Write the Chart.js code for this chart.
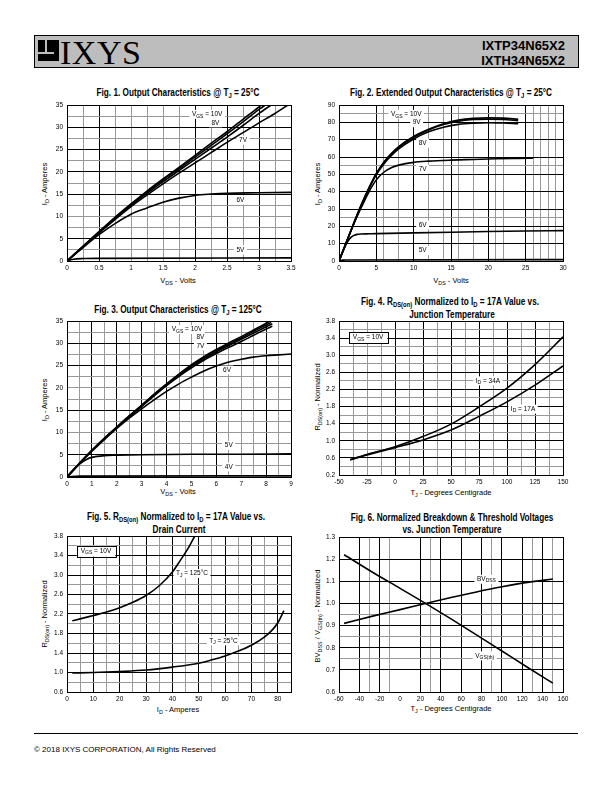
<!DOCTYPE html>
<html><head><meta charset="utf-8">
<script src="https://cdn.jsdelivr.net/npm/chart.js@4.4.0/dist/chart.umd.min.js"></script>
<style>
html,body{margin:0;padding:0;background:#fff;}
body{width:612px;height:792px;position:relative;overflow:hidden;font-family:"Liberation Sans",Arial,sans-serif;color:#000;}
.t{position:absolute;white-space:nowrap;color:#000;line-height:1;}
.ttl{font-family:"Liberation Sans",sans-serif;font-weight:bold;font-size:10px;transform:translate(-50%,-50%) scaleX(0.82);}
.ax{font-size:7.5px;transform:translate(-50%,-50%);}
.axy{font-size:7.5px;transform:translate(-50%,-50%) rotate(-90deg);}
sub{font-size:0.72em;vertical-align:-0.3em;line-height:0;}
sup{font-size:0.6em;vertical-align:0.6em;line-height:0;}
canvas{position:absolute;}
</style></head><body>

<div style="position:absolute;left:34px;top:35px;width:543px;height:31px;background:#bdbdbd;border:1px solid #000;"></div>
<div style="position:absolute;left:38px;top:40px;width:21px;height:21px;background:#000;"></div>
<div style="position:absolute;left:45px;top:40px;width:2px;height:12px;background:#bdbdbd;"></div>
<div style="position:absolute;left:38px;top:52px;width:16px;height:2px;background:#bdbdbd;"></div>
<div class="t" style="left:60px;top:36px;font-family:'Liberation Serif',serif;font-size:34px;letter-spacing:0.5px;">IXYS</div>
<div class="t" style="right:47px;top:39px;font-weight:bold;font-size:13px;">IXTP34N65X2</div>
<div class="t" style="right:47px;top:54px;font-weight:bold;font-size:13px;">IXTH34N65X2</div>

<div class="t ttl" style="left:178px;top:93px;">Fig. 1. Output Characteristics @ T<sub>J</sub> = 25°C</div>
<div class="t ttl" style="left:451px;top:93px;">Fig. 2. Extended Output Characteristics @ T<sub>J</sub> = 25°C</div>
<div class="t ttl" style="left:178px;top:310px;">Fig. 3. Output Characteristics @ T<sub>J</sub> = 125°C</div>
<div class="t ttl" style="left:450px;top:302px;">Fig. 4. R<sub>DS(on)</sub> Normalized to I<sub>D</sub> = 17A Value vs.</div>
<div class="t ttl" style="left:452px;top:314.5px;">Junction Temperature</div>
<div class="t ttl" style="left:176px;top:517px;">Fig. 5. R<sub>DS(on)</sub> Normalized to I<sub>D</sub> = 17A Value vs.</div>
<div class="t ttl" style="left:179px;top:529.5px;">Drain Current</div>
<div class="t ttl" style="left:452px;top:517.5px;">Fig. 6. Normalized Breakdown &amp; Threshold Voltages</div>
<div class="t ttl" style="left:452px;top:529.5px;">vs. Junction Temperature</div>

<div class="t axy" style="left:45px;top:184px;">I<sub>D</sub> - Amperes</div>
<div class="t ax" style="left:178px;top:281px;">V<sub>DS</sub> - Volts</div>
<div class="t axy" style="left:318px;top:184px;">I<sub>D</sub> - Amperes</div>
<div class="t ax" style="left:451px;top:281px;">V<sub>DS</sub> - Volts</div>
<div class="t axy" style="left:45px;top:400px;">I<sub>D</sub> - Amperes</div>
<div class="t ax" style="left:178px;top:492px;">V<sub>DS</sub> - Volts</div>
<div class="t axy" style="left:318px;top:397px;">R<sub>DS(on)</sub> - Normalized</div>
<div class="t ax" style="left:451px;top:493px;">T<sub>J</sub> - Degrees Centigrade</div>
<div class="t axy" style="left:45px;top:614px;">R<sub>DS(on)</sub> - Normalized</div>
<div class="t ax" style="left:178px;top:710px;">I<sub>D</sub> - Amperes</div>
<div class="t axy" style="left:318px;top:616px;">BV<sub>DSS</sub> / V<sub>GS(th)</sub> - Normalized</div>
<div class="t ax" style="left:451px;top:709px;">T<sub>J</sub> - Degrees Centigrade</div>

<div style="position:absolute;left:34px;top:733px;width:544px;height:1px;background:#000;"></div>
<div class="t" style="left:34px;top:746px;font-size:8px;">© 2018 IXYS CORPORATION, All Rights Reserved</div>

<script>
// ===== Fig.1 data (Tj = 25C) =====
const fig1_vds10 = [0,0.25,0.5,0.75,1,1.25,1.5,1.75,2,2.25,2.5,2.75,3,3.04];
const fig1_id10  = [0,3.3,6.6,9.8,12.8,15.7,18.4,21.0,23.7,26.4,29.0,31.8,34.6,35.1];
const fig1_vds9  = [0,0.25,0.5,0.75,1,1.25,1.5,1.75,2,2.25,2.5,2.75,3,3.1];
const fig1_id9   = [0,3.3,6.5,9.7,12.7,15.5,18.2,20.7,23.3,25.9,28.5,31.2,34.0,35.0];
const fig1_vds8  = [0,0.25,0.5,0.75,1,1.25,1.5,1.75,2,2.25,2.5,2.75,3,3.2];
const fig1_id8   = [0,3.2,6.4,9.5,12.5,15.2,17.8,20.3,22.8,25.3,27.8,30.4,33.1,35.1];
const fig1_vds7  = [0,0.25,0.5,0.75,1,1.25,1.5,1.75,2,2.25,2.5,2.75,3,3.25,3.45];
const fig1_id7   = [0,3.2,6.3,9.3,12.2,14.8,17.3,19.7,22.0,24.3,26.6,28.8,31.0,33.1,35.0];
const fig1_vds6  = [0,0.25,0.5,0.75,1,1.25,1.5,1.75,2,2.25,2.5,3,3.5];
const fig1_id6   = [0,3.0,5.9,8.4,10.5,11.9,13.2,14.1,14.7,15.0,15.2,15.3,15.4];
const fig1_vds5  = [0,0.1,0.25,0.5,3.5];
const fig1_id5   = [0,0.4,0.55,0.6,0.7];
const fig1_xgrid = [0,0.25,0.5,0.75,1,1.25,1.5,1.75,2,2.25,2.5,2.75,3,3.25,3.5];
const fig1_xlab  = [0,0.5,1,1.5,2,2.5,3,3.5];
const fig1_ygrid = [0,2.5,5,7.5,10,12.5,15,17.5,20,22.5,25,27.5,30,32.5,35];
const fig1_ylab  = [0,5,10,15,20,25,30,35];

// ===== Fig.2 data (extended, Tj = 25C) =====
const fig2_vdsA = [0,1,2,3,4,5,6,7,8,10,12,14,16,18,20,22,24];
const fig2_id10 = [0,11,22,32.5,42,50.5,57,62,66,71.8,76,79.2,81.3,82.3,82.6,82.4,81.8];
const fig2_id9  = [0,11,22,32.5,42,50.3,56.7,61.6,65.6,71.4,75.6,78.7,80.7,81.6,81.8,81.6,81.0];
const fig2_id8  = [0,10.9,21.8,32,41.5,49.8,56,60.8,64.7,70.4,74.5,77.2,78.8,79.5,79.8,79.6,79.2];
const fig2_vds7 = [0,1,2,3,4,5,6,7,8,10,12,15,18,21,24,26];
const fig2_id7  = [0,10.8,21.5,31,39.8,46.8,51.2,53.8,55.3,56.9,57.6,58.2,58.6,59,59.2,59.3];
const fig2_vds6 = [0,0.5,1,1.5,2,2.5,3,4,5,10,15,20,25,30];
const fig2_id6  = [0,5.3,10,13.2,14.8,15.4,15.6,15.7,15.8,16.2,16.6,17,17.3,17.5];
const fig2_vds5 = [0,0.5,1,30];
const fig2_id5  = [0,0.5,0.6,0.8];
const fig2_xgrid = [0,5,6,8,10,12,14,15,16,18,20,21,22,25,26,27,28,29,30];
const fig2_xlab  = [0,5,10,15,20,25,30];
const fig2_ygrid = [0,10,20,25,30,40,50,55,60,70,80,85,90];
const fig2_ylab  = [0,10,20,30,40,50,60,70,80,90];

// ===== Fig.3 data (Tj = 125C) =====
const fig3_vds10 = [0,0.5,1,1.5,2,2.5,3,3.5,4,4.5,5,5.5,6,6.5,7,7.5,8,8.15];
const fig3_id10  = [0,3.1,6.0,8.7,11.2,13.7,16.1,18.6,20.9,23.1,25.2,27.0,28.6,30.1,31.5,33.0,34.5,35.0];
const fig3_vds9  = [0,0.5,1,1.5,2,2.5,3,3.5,4,4.5,5,5.5,6,6.5,7,7.5,8,8.2];
const fig3_id9   = [0,3.1,6.0,8.7,11.2,13.7,16.1,18.5,20.8,23.0,25.0,26.8,28.4,29.8,31.2,32.7,34.1,34.7];
const fig3_vds8  = [0,0.5,1,1.5,2,2.5,3,3.5,4,4.5,5,5.5,6,6.5,7,7.5,8,8.25];
const fig3_id8   = [0,3.1,5.9,8.6,11.1,13.6,16.0,18.4,20.7,22.8,24.8,26.5,28.1,29.5,30.9,32.3,33.7,34.4];
const fig3_vds7  = [0,0.5,1,1.5,2,2.5,3,3.5,4,4.5,5,5.5,6,6.5,7,7.5,8,8.25];
const fig3_id7   = [0,3.0,5.9,8.5,11.0,13.5,15.8,18.2,20.5,22.6,24.5,26.2,27.7,29.1,30.4,31.8,33.2,33.8];
const fig3_vds6  = [0,0.5,1,1.5,2,2.5,3,3.5,4,4.5,5,5.5,6,6.5,7,7.5,8,8.5,9];
const fig3_id6   = [0,3,5.8,8.4,10.9,13.2,15.3,17.3,19.2,20.9,22.4,23.8,24.9,25.8,26.4,26.9,27.2,27.4,27.6];
const fig3_vds5  = [0,0.5,0.8,1,1.5,2,3,5,7,9];
const fig3_id5   = [0,2.9,4.0,4.4,4.8,4.9,5.0,5.1,5.1,5.2];
const fig3_vds4  = [0,0.5,9];
const fig3_id4   = [0,0.2,0.25];
const fig3_xgrid = [0,0.5,1,1.5,2,2.5,3,3.5,4,4.5,5,5.5,6,6.5,7,7.5,8,8.5,9];
const fig3_xlab  = [0,1,2,3,4,5,6,7,8,9];
const fig3_ygrid = fig1_ygrid;
const fig3_ylab  = fig1_ylab;

// ===== Fig.4 data =====
const fig4_tj    = [-40,-25,0,25,50,75,100,125,150];
const fig4_r34   = [0.56,0.68,0.86,1.10,1.39,1.79,2.23,2.78,3.43];
const fig4_r17   = [0.55,0.67,0.84,1.02,1.25,1.57,1.91,2.30,2.75];
const fig4_xgrid = [-50,-37.5,-25,-12.5,0,12.5,25,37.5,50,62.5,75,87.5,100,112.5,125,137.5,150];
const fig4_xlab  = [-50,-25,0,25,50,75,100,125,150];
const fig4_ygrid = [0.2,0.4,0.6,0.8,1.0,1.2,1.4,1.6,1.8,2.0,2.2,2.4,2.6,2.8,3.0,3.2,3.4,3.6,3.8];
const fig4_ylab  = [0.2,0.6,1.0,1.4,1.8,2.2,2.6,3.0,3.4,3.8];

// ===== Fig.5 data =====
const fig5_id125 = [2,5,10,15,20,25,30,35,40,43,46,48.5];
const fig5_r125  = [2.06,2.10,2.17,2.24,2.33,2.44,2.58,2.78,3.06,3.3,3.55,3.8];
const fig5_id25  = [2,10,20,30,40,50,55,60,65,70,75,78,80,82.3];
const fig5_r25   = [0.99,1.0,1.02,1.05,1.11,1.19,1.26,1.34,1.44,1.56,1.73,1.88,2.02,2.27];
const fig5_xgrid = [0,5,10,15,20,25,30,35,40,45,50,55,60,65,70,75,80,85];
const fig5_xlab  = [0,10,20,30,40,50,60,70,80];
const fig5_ygrid = [0.6,0.8,1.0,1.2,1.4,1.6,1.8,2.0,2.2,2.4,2.6,2.8,3.0,3.2,3.4,3.6,3.8];
const fig5_ylab  = [0.6,1.0,1.4,1.8,2.2,2.6,3.0,3.4,3.8];

// ===== Fig.6 data =====
const fig6_tj    = [-55,-25,0,25,50,75,100,125,150];
const fig6_bv    = [0.91,0.945,0.972,1.0,1.027,1.052,1.075,1.095,1.11];
const fig6_vth   = [1.22,1.135,1.068,1.0,0.93,0.858,0.785,0.712,0.64];
const fig6_xgrid = [-60,-40,-30,-20,-10,0,20,30,40,60,80,90,100,120,130,140,150,160];
const fig6_xlab  = [-60,-40,-20,0,20,40,60,80,100,120,140,160];
const fig6_ygrid = [0.6,0.7,0.75,0.8,0.85,0.9,0.95,1.0,1.1,1.2,1.3];
const fig6_ylab  = [0.6,0.7,0.8,0.9,1.0,1.1,1.2,1.3];

// ===== drawing helpers =====
const near = (arr, v) => arr.some(q => Math.abs(q - v) < 1e-6);
function drawLabels(chart, opts, bgPass){
  const ctx = chart.ctx, xs = chart.scales.x, ys = chart.scales.y;
  (opts.items || []).forEach(it => {
    const px = xs.getPixelForValue(it.x), py = ys.getPixelForValue(it.y);
    const parts = typeof it.t === 'string' ? [[it.t]] : it.t;
    const fM = '6.5px "Liberation Sans", sans-serif', fS = '5px "Liberation Sans", sans-serif';
    let w = 0;
    parts.forEach(p => { ctx.font = p[1] ? fS : fM; w += ctx.measureText(p[0]).width; });
    const x0 = px - w / 2;
    ctx.save();
    if (bgPass) {
      const padX = it.box ? 4 : 2.5, h = it.box ? 11 : 9;
      ctx.fillStyle = '#fff';
      ctx.fillRect(x0 - padX, py - h / 2, w + 2 * padX, h);
      if (it.box) {
        ctx.strokeStyle = '#000'; ctx.lineWidth = 1;
        ctx.strokeRect(Math.round(x0 - padX) + 0.5, Math.round(py - h / 2) + 0.5, Math.round(w + 2 * padX), h);
      }
    } else {
      ctx.fillStyle = '#000'; ctx.textBaseline = 'middle'; ctx.textAlign = 'left';
      let x = x0;
      parts.forEach(p => { ctx.font = p[1] ? fS : fM; ctx.fillText(p[0], x, py + (p[1] ? 1.8 : 0)); x += ctx.measureText(p[0]).width; });
    }
    ctx.restore();
  });
}
const labelPlugin = {
  id: 'curveLabels',
  beforeDatasetsDraw(chart, args, opts){ drawLabels(chart, opts, true); },
  afterDatasetsDraw(chart, args, opts){ drawLabels(chart, opts, false); }
};

function makeFig(spec){
  const PL = 45, PT = 10, PR = 14, PB = 22;
  const cv = document.createElement('canvas');
  cv.width = spec.w + PL + PR; cv.height = spec.h + PT + PB;
  cv.style.left = (spec.l - PL) + 'px'; cv.style.top = (spec.t - PT) + 'px';
  document.body.appendChild(cv);
  const axis = (a, isX) => ({
    type: 'linear', min: a.min, max: a.max,
    afterBuildTicks: s => { s.ticks = a.grid.map(v => ({value: v})); },
    afterFit: s => { if (isX) s.height = PB; else s.width = PL; },
    ticks: {autoSkip: false, maxRotation: 0, minRotation: 0, padding: isX ? 3 : 4, color: '#000',
      font: {size: 6.5, family: '"Liberation Sans", sans-serif'},
      callback: v => near(a.labels, v) ? a.fmt(v) : ''},
    grid: {drawTicks: false, lineWidth: 1,
      color: c => {
        const v = c.tick ? c.tick.value : null;
        if (v === null) return 'rgba(0,0,0,0)';
        if (a.none && near(a.none, v)) return 'rgba(0,0,0,0)';
        return (near(a.black, v) || v === a.min || v === a.max) ? '#000' : '#999';
      }},
    border: {display: true, color: '#000', width: 1}
  });
  new Chart(cv, {
    type: 'line',
    data: {datasets: spec.series.map(s => ({
      data: s.x.map((xv, i) => ({x: xv, y: s.y[i]})),
      borderColor: '#000', borderWidth: 1.6, pointRadius: 0, fill: false,
      cubicInterpolationMode: 'monotone'}))},
    options: {responsive: false, animation: false, devicePixelRatio: 1,
      layout: {padding: {top: PT, right: PR, left: 0, bottom: 0}},
      scales: {x: axis(spec.xa, true), y: axis(spec.ya, false)},
      plugins: {legend: {display: false}, tooltip: {enabled: false}, curveLabels: {items: spec.labels}}},
    plugins: [labelPlugin]
  });
}
const f0 = v => String(v), f1 = v => v.toFixed(1);
const VGS10 = [['V'],['GS',1],[' = 10V']];

makeFig({l:67, t:105, w:224, h:156,
  xa:{min:0,max:3.5,grid:fig1_xgrid,labels:fig1_xlab,black:[0.5,2,2.5,3],fmt:f0},
  ya:{min:0,max:35,grid:fig1_ygrid,labels:fig1_ylab,black:[5,15,20,25,30],fmt:f0},
  series:[{x:fig1_vds10,y:fig1_id10},{x:fig1_vds9,y:fig1_id9},{x:fig1_vds8,y:fig1_id8},{x:fig1_vds7,y:fig1_id7},{x:fig1_vds6,y:fig1_id6},{x:fig1_vds5,y:fig1_id5}],
  labels:[{x:2.19,y:32.9,t:VGS10},{x:2.32,y:31.0,t:'8V'},{x:2.75,y:27.1,t:'7V'},{x:2.71,y:13.7,t:'6V'},{x:2.71,y:2.5,t:'5V'}]});

makeFig({l:339, t:105, w:224, h:156,
  xa:{min:0,max:30,grid:fig2_xgrid,labels:fig2_xlab,black:[5,10,15,20,25],fmt:f0},
  ya:{min:0,max:90,grid:fig2_ygrid,labels:fig2_ylab,black:[10,20,30,40,50,60,70,80],fmt:f0},
  series:[{x:fig2_vdsA,y:fig2_id10},{x:fig2_vdsA,y:fig2_id9},{x:fig2_vdsA,y:fig2_id8},{x:fig2_vds7,y:fig2_id7},{x:fig2_vds6,y:fig2_id6},{x:fig2_vds5,y:fig2_id5}],
  labels:[{x:9.0,y:84.6,t:VGS10},{x:10.4,y:79.8,t:'9V'},{x:11.2,y:67.9,t:'8V'},{x:11.2,y:53,t:'7V'},{x:11.2,y:20.8,t:'6V'},{x:11.2,y:6,t:'5V'}]});

makeFig({l:67, t:321, w:224, h:156,
  xa:{min:0,max:9,grid:fig3_xgrid,labels:fig3_xlab,black:[1,2,3,4,6,8],fmt:f0},
  ya:{min:0,max:35,grid:fig3_ygrid,labels:fig3_ylab,black:[5,15,25,30],fmt:f0},
  series:[{x:fig3_vds10,y:fig3_id10},{x:fig3_vds9,y:fig3_id9},{x:fig3_vds8,y:fig3_id8},{x:fig3_vds7,y:fig3_id7},{x:fig3_vds6,y:fig3_id6},{x:fig3_vds5,y:fig3_id5},{x:fig3_vds4,y:fig3_id4}],
  labels:[{x:4.82,y:33.1,t:VGS10},{x:5.36,y:31.3,t:'8V'},{x:5.36,y:29.4,t:'7V'},{x:6.43,y:24,t:'6V'},{x:6.5,y:7.1,t:'5V'},{x:6.5,y:2.25,t:'4V'}]});

makeFig({l:339, t:321, w:224, h:154,
  xa:{min:-50,max:150,grid:fig4_xgrid,labels:fig4_xlab,black:[0,25,50,75,100,125],fmt:f0},
  ya:{min:0.2,max:3.8,grid:fig4_ygrid,labels:fig4_ylab,black:[0.6,1.0,1.4,1.8,2.2,2.6,3.0,3.4],fmt:f1},
  series:[{x:fig4_tj,y:fig4_r34},{x:fig4_tj,y:fig4_r17}],
  labels:[{x:-24,y:3.41,t:VGS10,box:true},{x:83,y:2.40,t:[['I'],['D',1],[' = 34A']]},{x:114.3,y:1.74,t:[['I'],['D',1],[' = 17A']]}]});

makeFig({l:67, t:536, w:224, h:156,
  xa:{min:0,max:85,grid:fig5_xgrid,labels:fig5_xlab,black:[10,20,30,40,50,60,70,80],fmt:f0},
  ya:{min:0.6,max:3.8,grid:fig5_ygrid,labels:fig5_ylab,black:[1.0,1.4,1.8,2.2,2.6,3.0,3.4],fmt:f1},
  series:[{x:fig5_id125,y:fig5_r125},{x:fig5_id25,y:fig5_r25}],
  labels:[{x:11,y:3.49,t:VGS10,box:true},{x:47.4,y:3.03,t:[['T'],['J',1],[' = 125°C']]},{x:59.4,y:1.65,t:[['T'],['J',1],[' = 25°C']]}]});

makeFig({l:339, t:537, w:224, h:155,
  xa:{min:-60,max:160,grid:fig6_xgrid,labels:fig6_xlab,black:[-40,-20,20,40,60,80,100,120,140],none:[0],fmt:f0},
  ya:{min:0.6,max:1.3,grid:fig6_ygrid,labels:fig6_ylab,black:[0.7,0.8,0.9,1.0,1.1,1.2],fmt:f1},
  series:[{x:fig6_tj,y:fig6_bv},{x:fig6_tj,y:fig6_vth}],
  labels:[{x:84.8,y:1.109,t:[['BV'],['DSS',1]]},{x:83.1,y:0.763,t:[['V'],['GS(th)',1]]}]});
</script>
</body></html>
